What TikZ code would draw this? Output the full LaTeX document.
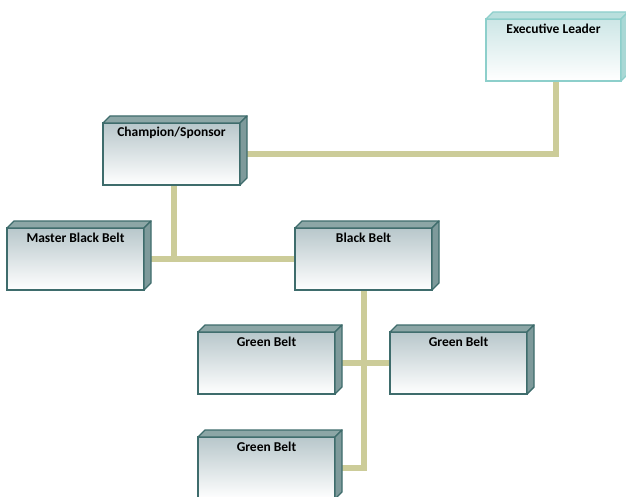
\documentclass[tikz,border=0pt]{standalone}
\usepackage{fontspec}
\setmainfont{Carlito}
\usetikzlibrary{backgrounds}
\definecolor{dkEdge}{HTML}{3E6C6C}
\definecolor{dkTop}{HTML}{8CA6A6}
\definecolor{dkSide}{HTML}{7E9A9B}
\definecolor{dkFront}{HTML}{B8C7CB}
\definecolor{ltEdge}{HTML}{8DCFCB}
\definecolor{ltTop}{HTML}{B9DFDD}
\definecolor{ltSide}{HTML}{A9D8D5}
\definecolor{ltFront}{HTML}{CDE6E6}
\definecolor{beltline}{HTML}{CCCC99}
\tikzset{
  conn/.style={draw=beltline, line width=6pt},
  boxfront/.style={rectangle, outer sep=0pt, inner sep=0pt, line width=1.4pt,
    minimum height=62, anchor=north west},
  lbl/.style={font=\bfseries\fontsize{13.5}{15}\selectfont, text=black, inner sep=0pt}
}
\newcommand\beltbox[6]{% name, x, y, width, label, colour prefix
  \node[boxfront, draw=#6Edge, top color=#6Front, bottom color=white,
        minimum width=#4] (#1) at (#2,#3) {};
  \filldraw[draw=#6Edge, fill=#6Top, line width=1.4pt, line join=round]
    (#1.north west) -- ++(7,-7) -- ([shift={(7,-7)}]#1.north east) -- (#1.north east) -- cycle;
  \filldraw[draw=#6Edge, fill=#6Side, line width=1.4pt, line join=round]
    (#1.north east) -- ++(7,-7) -- ([shift={(7,-7)}]#1.south east) -- (#1.south east) -- cycle;
  \node[lbl] (#1-t) at ([yshift=-10pt]#1.north) {#5};
}
\begin{document}
\begin{tikzpicture}[x=1pt,y=-1pt]
  \useasboundingbox (0,0) rectangle (626,497);
  \beltbox{exec}{486}{19}{135}{Executive Leader}{lt}
  \beltbox{champ}{103}{123}{137}{Champion/Sponsor}{dk}
  \beltbox{mbb}{7}{228}{137}{Master Black Belt}{dk}
  \beltbox{bb}{295}{228}{137}{Black Belt}{dk}
  \beltbox{ga}{198}{332}{137}{Green Belt}{dk}
  \beltbox{gb}{390}{332}{137}{Green Belt}{dk}
  \beltbox{gc}{198}{437}{137}{Green Belt}{dk}
  \begin{scope}[on background layer]
    \draw[conn] ([xshift=2pt]exec.south) |- (champ.east);
    \draw[conn] ([xshift=2pt]champ.south) |- (mbb.east);
    \draw[conn] ([xshift=2pt]champ.south |- bb.west) -- (bb.west);
    \draw[conn] (bb.south) |- (gc.east);
    \draw[conn] (ga.east) -- (gb.west);
  \end{scope}
\end{tikzpicture}
\end{document}
